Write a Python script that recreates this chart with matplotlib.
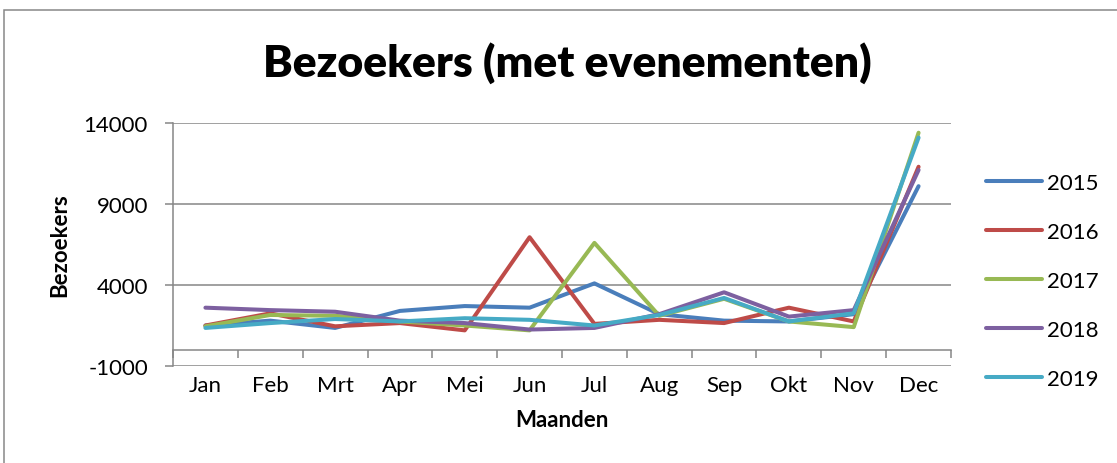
import matplotlib
matplotlib.use("Agg")
import matplotlib.pyplot as plt
from matplotlib.patches import Rectangle
import numpy as np

plt.rcParams['font.family'] = ['Lato', 'DejaVu Sans']

months = ['Jan', 'Feb', 'Mrt', 'Apr', 'Mei', 'Jun', 'Jul', 'Aug', 'Sep', 'Okt', 'Nov', 'Dec']
v2015 = [1500, 1800, 1350, 2400, 2700, 2600, 4100, 2200, 1800, 1750, 2200, 10100]
v2016 = [1500, 2250, 1450, 1650, 1200, 6950, 1600, 1850, 1650, 2600, 1750, 11300]
v2017 = [1450, 2150, 2100, 1750, 1500, 1200, 6600, 2100, 3150, 1750, 1400, 13400]
v2018 = [2600, 2450, 2350, 1800, 1650, 1250, 1350, 2200, 3550, 2050, 2450, 11100]
v2019 = [1350, 1650, 1900, 1750, 1950, 1850, 1500, 2150, 3200, 1750, 2250, 13100]
series_names = ['2015', '2016', '2017', '2018', '2019']
series = [v2015, v2016, v2017, v2018, v2019]
colors = ['#4A7EBB', '#BE4B48', '#98B954', '#7D60A0', '#46AAC5']
yticks = [-1000, 4000, 9000, 14000]

W, H = 1117, 464
fig = plt.figure(figsize=(W / 100, H / 100), dpi=100)
fig.patch.set_facecolor('white')

# outer chart frame
fig.patches.append(Rectangle((4 / W, -0.1), 1.2, 1 - 11 / H + 0.1, transform=fig.transFigure,
                             fill=False, edgecolor='#878787', linewidth=1.1))

ax = fig.add_axes([173 / W, 1 - 367 / H, (951 - 173) / W, (367 - 124) / H])
x = np.arange(len(months))
for name, vals, c in zip(series_names, series, colors):
    ax.plot(x, vals, color=c, linewidth=2.9, solid_capstyle='round',
            solid_joinstyle='round', label=name)

grid_c = '#868686'
ax.set_xlim(-0.5, len(months) - 0.5)
ax.set_ylim(-1000, 14000)
ax.set_yticks(yticks)
ax.set_yticklabels([str(t) for t in yticks], fontsize=16)
ax.yaxis.grid(True, color=grid_c, linewidth=1.1)
ax.set_axisbelow(True)

for s in ['top', 'right']:
    ax.spines[s].set_visible(False)
ax.spines['left'].set_color(grid_c)
ax.spines['left'].set_linewidth(1.1)
ax.spines['bottom'].set_position(('data', 0))
ax.spines['bottom'].set_color(grid_c)
ax.spines['bottom'].set_linewidth(1.1)

ax.set_xticks(x)
ax.set_xticklabels(months, fontsize=16)
ax.set_xticks(np.arange(len(months) + 1) - 0.5, minor=True)
ax.tick_params(axis='x', which='major', length=0, pad=18.5)
ax.tick_params(axis='x', which='minor', length=6, width=1.1, color=grid_c, direction='out')
ax.tick_params(axis='y', length=6, width=1.1, color=grid_c, pad=12)

fig.text(567 / W, 1 - 63 / H, 'Bezoekers (met evenementen)', fontsize=32,
         fontweight='heavy', ha='center', va='center')
fig.text(60 / W, 1 - 245 / H, 'Bezoekers', fontsize=16, fontweight='bold',
         rotation=90, ha='center', va='center')
fig.text(562 / W, 1 - 421 / H, 'Maanden', fontsize=16, fontweight='bold',
         ha='center', va='center')

fig.legend(loc='center left', bbox_to_anchor=(986 / W, 1 - 282 / H), frameon=False,
           fontsize=16, handlelength=2.5, handletextpad=0.25, labelspacing=1.3,
           borderpad=0, borderaxespad=0)

fig.savefig('out.png', dpi=100)
